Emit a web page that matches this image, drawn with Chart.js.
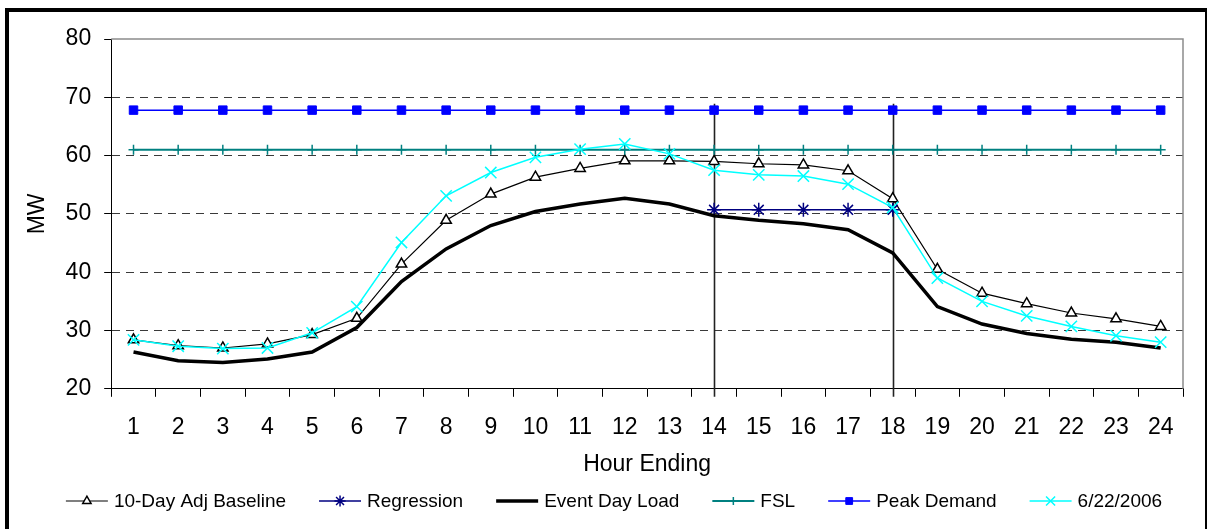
<!DOCTYPE html>
<html lang="en">
<head>
<meta charset="UTF-8">
<title>Hourly Load - Event Day</title>
<script src="https://cdn.jsdelivr.net/npm/chart.js@4.4.1/dist/chart.umd.min.js"></script>
<style>
  body { margin: 0; background: #fff; }
  .wrap { position: relative; width: 1207px; height: 529px; overflow: hidden; }
  #loadChart { position: absolute; left: 0; top: 0; }
  .frame {
    position: absolute; left: 5px; top: 8px; width: 1204px; height: 600px;
    box-sizing: border-box; border: 4px solid #000; pointer-events: none;
  }
</style>
</head>
<body>
<div class="wrap">
  <canvas id="loadChart" width="1207" height="529"></canvas>
  <div class="frame"></div>
</div>

<script>
const hours = ['1','2','3','4','5','6','7','8','9','10','11','12',
               '13','14','15','16','17','18','19','20','21','22','23','24'];

const baseline = [28.4, 27.4, 27.0, 27.7, 29.3, 32.1, 41.4, 48.9, 53.4, 56.3, 57.8, 59.1,
                  59.1, 59.0, 58.6, 58.4, 57.4, 52.6, 40.5, 36.4, 34.6, 33.0, 32.0, 30.7];
const regression = [null, null, null, null, null, null, null, null, null, null, null, null,
                    null, 50.7, 50.7, 50.7, 50.7, 50.7, null, null, null, null, null, null];
const eventLoad = [26.3, 24.8, 24.5, 25.1, 26.3, 30.5, 38.4, 44.0, 48.0, 50.4, 51.7, 52.7,
                   51.7, 49.7, 48.9, 48.3, 47.3, 43.3, 34.1, 31.1, 29.5, 28.5, 28.0, 27.0];
const fsl = [61.0, 61.0, 61.0, 61.0, 61.0, 61.0, 61.0, 61.0, 61.0, 61.0, 61.0, 61.0,
             61.0, 61.0, 61.0, 61.0, 61.0, 61.0, 61.0, 61.0, 61.0, 61.0, 61.0, 61.0];
const peakDemand = [67.8, 67.8, 67.8, 67.8, 67.8, 67.8, 67.8, 67.8, 67.8, 67.8, 67.8, 67.8,
                    67.8, 67.8, 67.8, 67.8, 67.8, 67.8, 67.8, 67.8, 67.8, 67.8, 67.8, 67.8];
const day0622 = [28.4, 27.3, 26.9, 27.0, 29.6, 34.1, 45.1, 53.1, 57.1, 59.7, 61.1, 62.0,
                 60.3, 57.5, 56.7, 56.5, 55.1, 51.1, 39.0, 35.0, 32.5, 30.7, 29.1, 28.0];

const yTicks = [20, 30, 40, 50, 60, 70, 80];
// event window markers
const eventHours = ['14', '18'];
const eventLineTop = 68.9;

const FONT = 'Liberation Sans, Arial, sans-serif';

// plot frame: gray top/right edge, vertical event lines, legend row
const extras = {
  id: 'extras',
  beforeDatasetsDraw(chart) {
    const { ctx, chartArea: a, scales: { x, y } } = chart;
    ctx.save();
    ctx.strokeStyle = '#8c8c8c';
    ctx.lineWidth = 1.5;
    ctx.beginPath();
    ctx.moveTo(a.left, a.top);
    ctx.lineTo(a.right, a.top);
    ctx.lineTo(a.right, a.bottom);
    ctx.stroke();

    ctx.strokeStyle = '#222';
    ctx.lineWidth = 1.6;
    eventHours.forEach(h => {
      const px = Math.round(x.getPixelForValue(hours.indexOf(h))) + 0.5;
      ctx.beginPath();
      ctx.moveTo(px, y.getPixelForValue(eventLineTop));
      ctx.lineTo(px, a.bottom + 8);
      ctx.stroke();
    });
    ctx.restore();
  },
  afterDraw(chart) {
    const { ctx } = chart;
    const items = chart.data.datasets.slice().sort((p, q) => p.legendIndex - q.legendIndex);
    const lineLen = 42, textGap = 6, itemGap = 33, cy = 501, center = 614;
    ctx.save();
    ctx.font = '19px ' + FONT;
    const widths = items.map(d => ctx.measureText(d.label).width);
    let total = widths.reduce((s, w) => s + w + lineLen + textGap, 0) + itemGap * (items.length - 1);
    let cx = center - total / 2;
    items.forEach((d, i) => {
      ctx.strokeStyle = d.borderColor;
      ctx.lineWidth = d.borderWidth;
      ctx.beginPath();
      ctx.moveTo(cx, cy);
      ctx.lineTo(cx + lineLen, cy);
      ctx.stroke();
      if (d.pointStyle && d.pointRadius > 0) {
        ctx.fillStyle = d.pointBackgroundColor;
        ctx.strokeStyle = d.pointBorderColor;
        ctx.lineWidth = d.pointBorderWidth;
        Chart.helpers.drawPoint(ctx, { pointStyle: d.pointStyle, radius: d.pointRadius * 0.8, rotation: 0, borderWidth: d.pointBorderWidth },
                                cx + lineLen / 2, cy);
      }
      ctx.fillStyle = '#000';
      ctx.textBaseline = 'middle';
      ctx.fillText(d.label, cx + lineLen + textGap, cy + 1);
      cx += lineLen + textGap + widths[i] + itemGap;
    });
    ctx.restore();
  }
};

new Chart(document.getElementById('loadChart'), {
  type: 'line',
  data: {
    labels: hours,
    datasets: [
      {
        label: '10-Day Adj Baseline', data: baseline, legendIndex: 0, order: 5,
        borderColor: '#000', borderWidth: 1.2,
        pointStyle: 'triangle', pointRadius: 6, pointBorderWidth: 1.5,
        pointBackgroundColor: '#fff', pointBorderColor: '#000'
      },
      {
        label: 'Regression', data: regression, legendIndex: 1, order: 4,
        borderColor: '#000080', borderWidth: 1.5,
        pointStyle: 'star', pointRadius: 7, pointBorderWidth: 1.5,
        pointBackgroundColor: '#000080', pointBorderColor: '#000080'
      },
      {
        label: 'Event Day Load', data: eventLoad, legendIndex: 2, order: 3,
        borderColor: '#000', borderWidth: 3.5,
        pointStyle: false, pointRadius: 0
      },
      {
        label: 'FSL', data: fsl, legendIndex: 3, order: 2,
        borderColor: '#008080', borderWidth: 2,
        pointStyle: 'cross', pointRadius: 5, pointBorderWidth: 1.5,
        pointBackgroundColor: '#008080', pointBorderColor: '#008080'
      },
      {
        label: 'Peak Demand', data: peakDemand, legendIndex: 4, order: 1,
        borderColor: '#0000ff', borderWidth: 1.5,
        pointStyle: 'rect', pointRadius: 6, pointBorderWidth: 1,
        pointBackgroundColor: '#0000ff', pointBorderColor: '#0000ff'
      },
      {
        label: '6/22/2006', data: day0622, legendIndex: 5, order: 0,
        borderColor: '#00ffff', borderWidth: 1.5,
        pointStyle: 'crossRot', pointRadius: 8, pointBorderWidth: 1.5,
        pointBackgroundColor: '#00ffff', pointBorderColor: '#00ffff'
      }
    ]
  },
  options: {
    responsive: false,
    devicePixelRatio: 1,
    animation: false,
    spanGaps: false,
    layout: { padding: { top: 39, right: 24, bottom: 51, left: 20 } },
    plugins: {
      legend: { display: false },
      tooltip: { enabled: false }
    },
    elements: { line: { tension: 0 } },
    scales: {
      x: {
        offset: true,
        border: { display: true, color: '#000', width: 1 },
        grid: { offset: true, drawOnChartArea: false, drawTicks: true, tickLength: 8, tickColor: '#000' },
        ticks: { color: '#000', padding: 17, font: { family: FONT, size: 23 }, maxRotation: 0 },
        title: { display: true, text: 'Hour Ending', color: '#000',
                 font: { family: FONT, size: 23 }, padding: { top: -8, bottom: 0 } }
      },
      y: {
        min: 20, max: 80,
        afterBuildTicks(scale) { scale.ticks = yTicks.map(v => ({ value: v })); },
        border: { display: true, color: '#000', width: 1, dash: [8, 6] },
        grid: {
          color: ctx => (ctx.tick && (ctx.tick.value === 20 || ctx.tick.value === 80)) ? 'rgba(0,0,0,0)' : '#3a3a3a',
          lineWidth: 1,
          tickLength: 7, tickColor: '#000', tickBorderDash: []
        },
        ticks: { color: '#000', padding: 13, font: { family: FONT, size: 23 } },
        title: { display: true, text: 'MW', color: '#000',
                 font: { family: FONT, size: 23 }, padding: { top: 4, bottom: 1 } }
      }
    }
  },
  plugins: [extras]
});
</script>
</body>
</html>
